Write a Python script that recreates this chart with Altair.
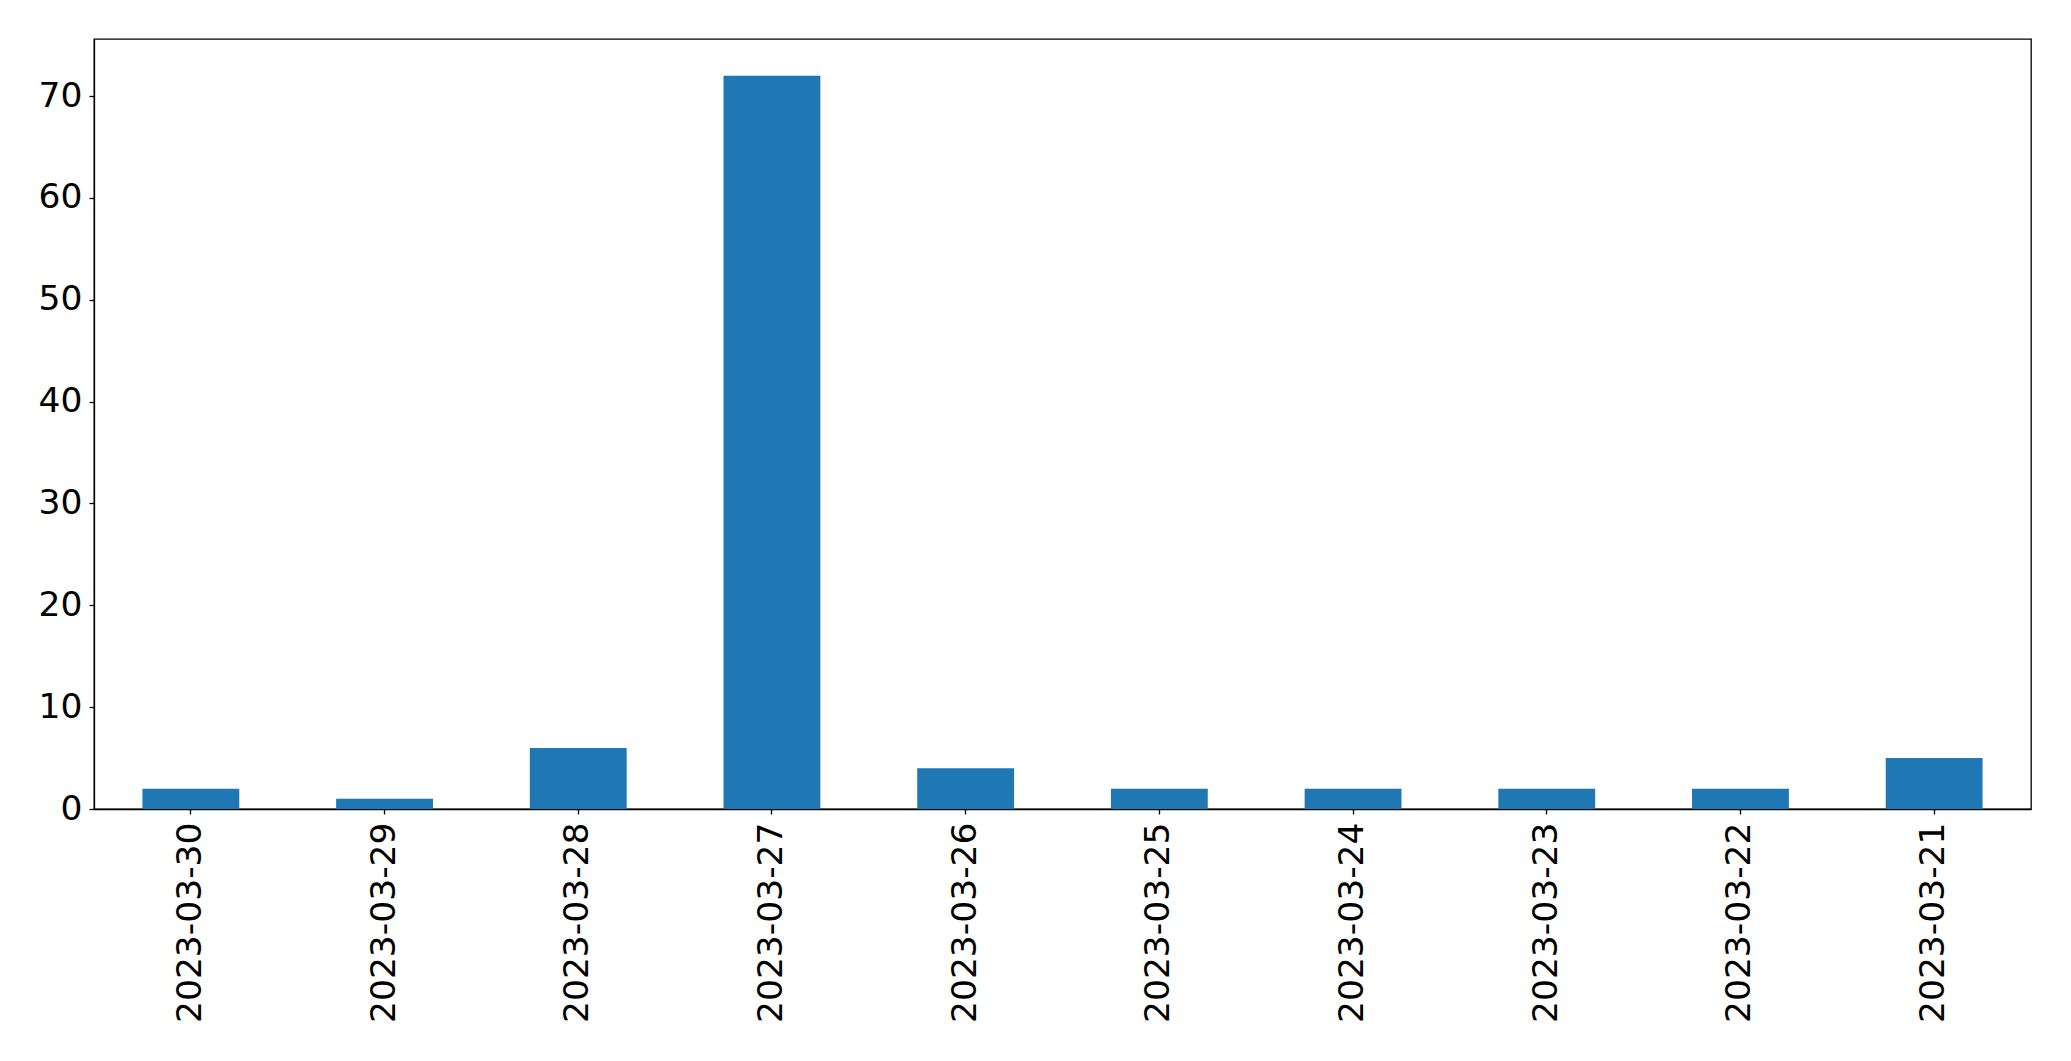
import altair as alt
import pandas as pd

dates = ["2023-03-30", "2023-03-29", "2023-03-28", "2023-03-27", "2023-03-26",
         "2023-03-25", "2023-03-24", "2023-03-23", "2023-03-22", "2023-03-21"]
counts = [2, 1, 6, 72, 4, 2, 2, 2, 2, 5]
y_ticks = [0, 10, 20, 30, 40, 50, 60, 70]

df = pd.DataFrame({"date": dates, "count": counts})

chart = alt.Chart(df).mark_bar(color="#1f77b4").encode(
    x=alt.X("date:N", sort=None, title=None,
            scale=alt.Scale(paddingInner=0.5, paddingOuter=0.25),
            axis=alt.Axis(labelAngle=-90, labelFontSize=34.5, labelFont="DejaVu Sans",
                          labelColor="black", tickColor="black", tickSize=5,
                          tickWidth=1.3, domainColor="black", domainWidth=1.3,
                          labelPadding=8, labelLimit=0)),
    y=alt.Y("count:Q", title=None,
            scale=alt.Scale(domain=[0, 75.6], nice=False, zero=True),
            axis=alt.Axis(values=y_ticks, grid=False, labelFontSize=34.5,
                          labelFont="DejaVu Sans", labelColor="black",
                          tickColor="black", tickSize=5, tickWidth=1.3,
                          domainColor="black", domainWidth=1.3, labelPadding=7)),
).properties(
    width=1937, height=770,
    autosize=alt.AutoSizeParams(type="none"),
    padding={"left": 86, "top": 31, "right": 30, "bottom": 230},
).configure_view(stroke="black", strokeWidth=1.3)

chart.save("out.html", embed_options={"renderer": "svg", "actions": False})
